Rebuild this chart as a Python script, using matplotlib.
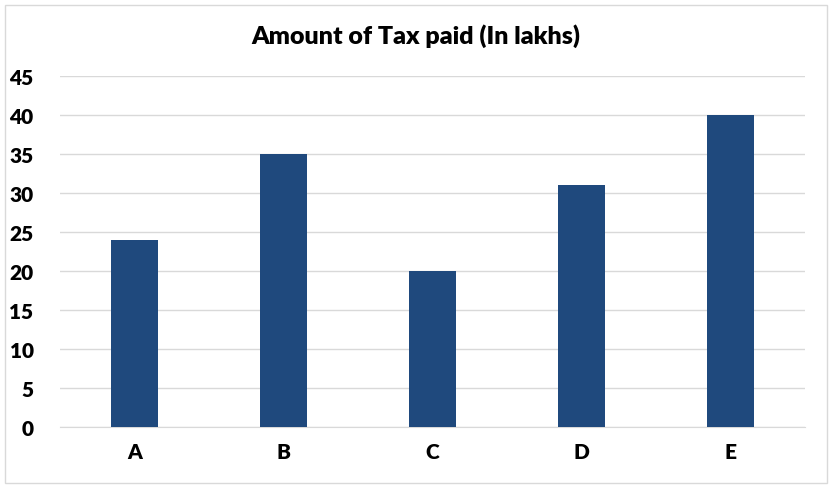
import matplotlib
matplotlib.use("Agg")
import matplotlib.pyplot as plt
from matplotlib.patches import Rectangle

categories = ["A", "B", "C", "D", "E"]
values = [24, 35, 20, 31, 40]
yticks = [0, 5, 10, 15, 20, 25, 30, 35, 40, 45]
title = "Amount of Tax paid (In lakhs)"

plt.rcParams['font.family'] = ['Lato', 'DejaVu Sans']

fig = plt.figure(figsize=(8.35, 4.89), dpi=100)
ax = fig.add_axes([60/835, (489-428)/489, 745/835, (428-77)/489])

x = list(range(len(categories)))
ax.bar(x, values, width=0.31, color="#1F497D", zorder=3)
ax.set_xlim(-0.5, len(categories) - 0.5)
ax.set_ylim(0, 45)
ax.set_yticks(yticks)
ax.set_xticks(x)
ax.set_xticklabels(categories)
ax.grid(axis="y", color="#D9D9D9", linewidth=1, zorder=0)
for s in ["top", "right", "left"]:
    ax.spines[s].set_visible(False)
ax.spines["bottom"].set_color("#D9D9D9")
ax.tick_params(axis="both", length=0, labelsize=15)
ax.tick_params(axis="y", pad=19)
ax.tick_params(axis="x", pad=11)
for lbl in ax.get_xticklabels() + ax.get_yticklabels():
    lbl.set_fontweight("heavy")
    lbl.set_color("#000000")

fig.text(416/835, 1 - 36/489, title, ha="center", va="center",
         fontsize=18, fontweight="heavy", color="#000000")

fig.patches.append(Rectangle((5/835, 5/489), 822/835, 478/489, transform=fig.transFigure,
                             fill=False, edgecolor="#D9D9D9", linewidth=1))

fig.savefig("out.png", dpi=100)
